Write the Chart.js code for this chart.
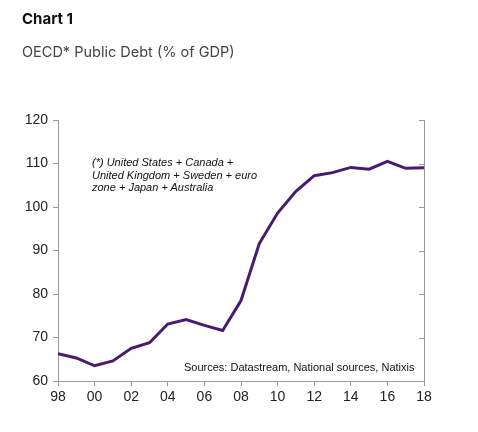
<!DOCTYPE html>
<html>
<head>
<meta charset="utf-8">
<script src="https://cdn.jsdelivr.net/npm/chart.js@4"></script>
<style>
  html, body { margin: 0; padding: 0; background: #fff; }
  #wrap { position: relative; width: 478px; height: 432px; overflow: hidden; }
  #debtChart { position: absolute; left: 0; top: 0; }
  .txt { position: absolute; white-space: nowrap; }
  .title { left: 22px; top: 9px; font: bold 15px Inter, "Open Sans", sans-serif; color: #111; }
  .subtitle { left: 22px; top: 43px; font: 14.5px Inter, "Open Sans", sans-serif; color: #444; }
  .note { left: 92px; top: 156px; font: italic 11px "Liberation Sans", Arial, sans-serif; line-height: 12.5px; color: #111; }
  .source { left: 184px; top: 361px; font: 11px "Liberation Sans", Arial, sans-serif; color: #111; }
</style>
</head>
<body>
<div id="wrap">
  <canvas id="debtChart" width="478" height="432"></canvas>
  <div class="txt title">Chart 1</div>
  <div class="txt subtitle">OECD* Public Debt (% of GDP)</div>
  <div class="txt note">(*) United States + Canada +<br>United Kingdom + Sweden + euro<br>zone + Japan + Australia</div>
  <div class="txt source">Sources: Datastream, National sources, Natixis</div>
</div>
<script>
// Data
const years = [1998, 1999, 2000, 2001, 2002, 2003, 2004, 2005, 2006, 2007, 2008,
               2009, 2010, 2011, 2012, 2013, 2014, 2015, 2016, 2017, 2018];
const debt = [66.3, 65.3, 63.5, 64.6, 67.5, 68.8, 73.1, 74.1, 72.8, 71.6, 78.5,
              91.6, 98.6, 103.6, 107.2, 107.9, 109.1, 108.7, 110.5, 108.9, 109.0];
const yTicks = [60, 70, 80, 90, 100, 110, 120];
const xTicks = [1998, 2000, 2002, 2004, 2006, 2008, 2010, 2012, 2014, 2016, 2018];

const axisColor = '#9a9a9a';

// Right-hand axis ticks point inward
const innerTicks = {
  id: 'innerTicks',
  afterDraw(chart) {
    const { ctx, chartArea, scales } = chart;
    ctx.save();
    ctx.strokeStyle = axisColor;
    ctx.lineWidth = 1;
    yTicks.forEach(v => {
      const y = Math.round(scales.y.getPixelForValue(v)) + 0.5;
      ctx.beginPath();
      ctx.moveTo(chartArea.right, y);
      ctx.lineTo(chartArea.right - 5, y);
      ctx.stroke();
    });
    ctx.restore();
  }
};

const ctx = document.getElementById('debtChart').getContext('2d');
new Chart(ctx, {
  type: 'line',
  data: {
    datasets: [{
      data: years.map((yr, i) => ({ x: yr, y: debt[i] })),
      borderColor: '#4a1a70',
      borderWidth: 3,
      pointRadius: 0,
      tension: 0,
      fill: false,
    }],
  },
  options: {
    responsive: false,
    animation: false,
    layout: { padding: { left: 0, top: 120, right: 54, bottom: 15 } },
    plugins: { legend: { display: false }, tooltip: { enabled: false } },
    scales: {
      x: {
        type: 'linear',
        min: 1998,
        max: 2018,
        afterBuildTicks: s => { s.ticks = xTicks.map(v => ({ value: v })); },
        afterFit: s => { s.height = 36; s.paddingLeft = 0; s.paddingRight = 0; },
        ticks: {
          color: '#222',
          font: { family: '"Liberation Sans", Arial, sans-serif', size: 14 },
          padding: 3,
          maxRotation: 0,
          callback: v => String(v % 100).padStart(2, '0'),
        },
        grid: { drawOnChartArea: false, color: axisColor, tickLength: 5 },
        border: { color: axisColor },
      },
      y: {
        min: 60,
        max: 120,
        afterBuildTicks: s => { s.ticks = yTicks.map(v => ({ value: v })); },
        afterFit: s => { s.width = 58; s.paddingTop = 0; s.paddingBottom = 0; },
        ticks: {
          color: '#222',
          font: { family: '"Liberation Sans", Arial, sans-serif', size: 14 },
          padding: 5,
        },
        grid: { drawOnChartArea: false, color: axisColor, tickLength: 5 },
        border: { color: axisColor },
      },
      y2: {
        position: 'right',
        min: 60,
        max: 120,
        afterFit: s => { s.width = 0; s.paddingTop = 0; s.paddingBottom = 0; },
        ticks: { display: false },
        grid: { drawOnChartArea: false, drawTicks: false },
        border: { color: axisColor },
      },
    },
  },
  plugins: [innerTicks],
});
</script>
</body>
</html>
